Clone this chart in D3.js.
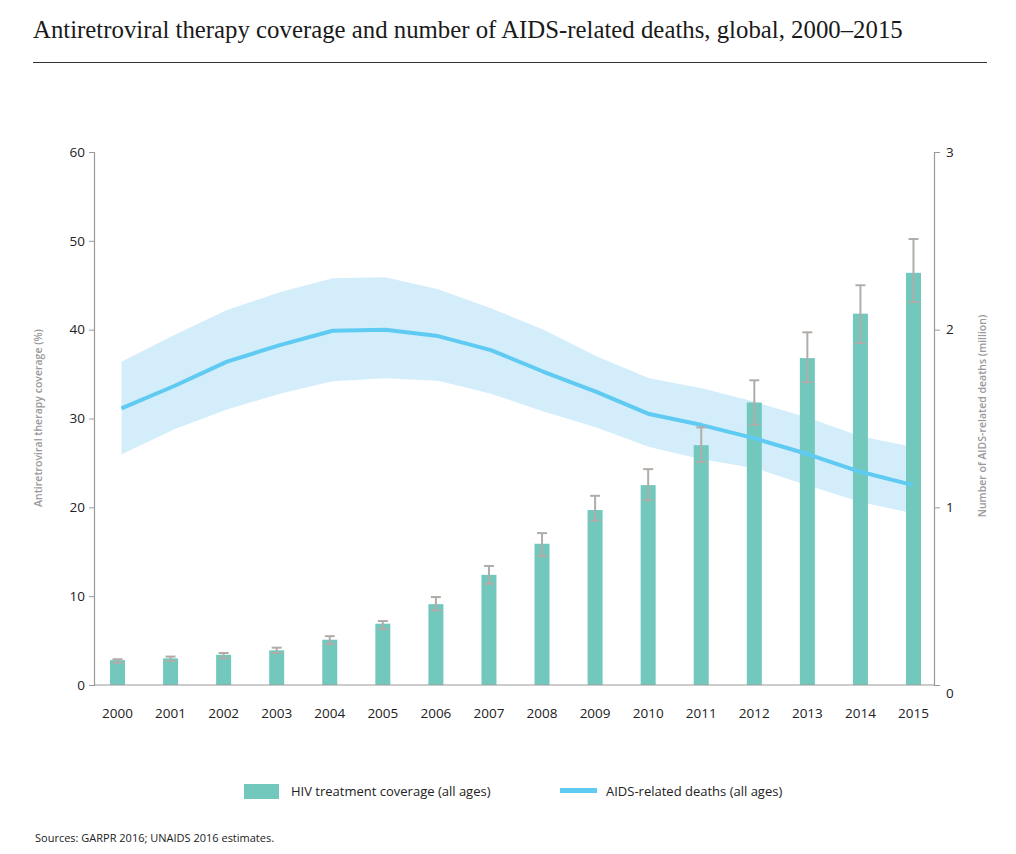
<!DOCTYPE html>
<html><head><meta charset="utf-8">
<script src="https://cdn.jsdelivr.net/npm/d3@7"></script>
<style>body{margin:0;background:#fff;} svg{display:block;}</style>
</head><body>
<svg id="chart" width="1016" height="854"></svg>
<script>
const years = [2000,2001,2002,2003,2004,2005,2006,2007,2008,2009,2010,2011,2012,2013,2014,2015];
const coverage = [2.8,3.0,3.4,3.9,5.1,6.9,9.1,12.4,15.9,19.7,22.5,27.0,31.8,36.8,41.8,46.4];
const coverageHigh = [2.9,3.2,3.6,4.2,5.5,7.2,9.9,13.4,17.1,21.3,24.3,29.0,34.3,39.7,45.0,50.2];
const coverageLow = [2.5,2.7,3.0,3.6,4.6,6.3,8.4,11.4,14.5,18.5,20.8,25.1,29.3,34.1,38.5,43.1];
const deaths = [1.557,1.683,1.82,1.913,1.994,2.0,1.964,1.885,1.763,1.65,1.525,1.463,1.388,1.30,1.20,1.125];
const deathsHigh = [1.82,1.97,2.11,2.21,2.29,2.295,2.227,2.12,2.0,1.85,1.726,1.67,1.594,1.506,1.40,1.34];
const deathsLow = [1.298,1.44,1.55,1.64,1.71,1.726,1.713,1.64,1.54,1.45,1.34,1.27,1.22,1.125,1.03,0.966];
const leftTicks = [0,10,20,30,40,50,60];
const rightTicks = [0,1,2,3];

const svg = d3.select('#chart');
const sans = "'Open Sans', 'Noto Sans', sans-serif";
const axisCol = '#9a9a9a';

svg.append('text').attr('x',33).attr('y',38)
  .attr('font-family',"'Liberation Serif', 'DejaVu Serif', serif")
  .attr('font-size',24.8).attr('fill','#1a1a1a')
  .text('Antiretroviral therapy coverage and number of AIDS-related deaths, global, 2000–2015');
svg.append('line').attr('x1',33).attr('x2',987).attr('y1',62.5).attr('y2',62.5)
  .attr('stroke','#333').attr('stroke-width',1);

const x = d3.scalePoint().domain(years).range([117.5, 913.5]);
const xl = d3.scalePoint().domain(years).range([121.5, 913]);
const yL = d3.scaleLinear().domain([0,60]).range([685,152]);
const yR = d3.scaleLinear().domain([0,3]).range([685,152]);

// band
const area = d3.area().x((d,i)=>xl(years[i])).y0((d,i)=>yR(deathsLow[i])).y1((d,i)=>yR(deathsHigh[i]));
svg.append('path').datum(deaths).attr('d',area).attr('fill','#d3eefa');

// bars
const bw = 15;
svg.append('g').selectAll('rect').data(coverage).join('rect')
  .attr('x',(d,i)=>x(years[i])-bw/2).attr('width',bw)
  .attr('y',d=>yL(d)).attr('height',d=>yL(0)-yL(d))
  .attr('fill','#72c8bd');

// line
const line = d3.line().x((d,i)=>xl(years[i])).y(d=>yR(d));
svg.append('path').datum(deaths).attr('d',line).attr('fill','none')
  .attr('stroke','#5fcaf2').attr('stroke-width',4).attr('stroke-linejoin','round');

// error bars
const eg = svg.append('g').attr('stroke','#b2aca8').attr('stroke-width',2);
years.forEach((yr,i)=>{
  const cx = x(yr);
  eg.append('line').attr('x1',cx).attr('x2',cx).attr('y1',yL(coverageHigh[i])).attr('y2',yL(coverageLow[i]));
  eg.append('line').attr('x1',cx-5).attr('x2',cx+5).attr('y1',yL(coverageHigh[i])).attr('y2',yL(coverageHigh[i]));
  eg.append('line').attr('x1',cx-5).attr('x2',cx+5).attr('y1',yL(coverageLow[i])).attr('y2',yL(coverageLow[i]));
});

// axes
const la = svg.append('g').attr('transform','translate(94,0)')
  .call(d3.axisLeft(yL).tickValues(leftTicks).tickSize(5).tickPadding(4).tickFormat(d3.format('d')));
const ra = svg.append('g').attr('transform','translate(934,0)')
  .call(d3.axisRight(yR).tickValues(rightTicks).tickSize(6).tickPadding(6).tickFormat(d3.format('d')));
[la,ra].forEach(a=>{
  a.select('.domain').attr('stroke',axisCol).attr('stroke-width',1.2);
  a.selectAll('.tick line').attr('stroke',axisCol);
  a.selectAll('.tick text').attr('font-family',sans).attr('font-size',13.5).attr('fill','#222');
});
ra.selectAll('.tick').filter(d=>d===0).select('text').attr('dy','0.9em');
svg.append('line').attr('x1',94).attr('x2',934).attr('y1',685).attr('y2',685)
  .attr('stroke',axisCol).attr('stroke-width',1.2);

svg.append('g').selectAll('text').data(years).join('text')
  .attr('x',d=>x(d)).attr('y',718).attr('text-anchor','middle')
  .attr('font-family',sans).attr('font-size',13.5).attr('fill','#222').text(d=>d);

svg.append('text').attr('transform','translate(42,418) rotate(-90)').attr('text-anchor','middle')
  .attr('font-family',sans).attr('font-size',10.5).attr('font-weight',600).attr('fill','#9a9a9a')
  .text('Antiretroviral therapy coverage (%)');
svg.append('text').attr('transform','translate(986,416) rotate(-90)').attr('text-anchor','middle')
  .attr('font-family',sans).attr('font-size',10.5).attr('font-weight',600).attr('fill','#9a9a9a')
  .text('Number of AIDS-related deaths (million)');

// legend
svg.append('rect').attr('x',244).attr('y',784).attr('width',35).attr('height',15).attr('fill','#72c8bd');
svg.append('text').attr('x',291).attr('y',796).attr('font-family',sans).attr('font-size',13).attr('fill','#222')
  .text('HIV treatment coverage (all ages)');
svg.append('rect').attr('x',560).attr('y',788).attr('width',37).attr('height',5).attr('fill','#5fcaf2');
svg.append('text').attr('x',606).attr('y',796).attr('font-family',sans).attr('font-size',13).attr('fill','#222')
  .text('AIDS-related deaths (all ages)');

svg.append('text').attr('x',35).attr('y',842).attr('font-family',sans).attr('font-size',11).attr('fill','#222')
  .text('Sources: GARPR 2016; UNAIDS 2016 estimates.');
</script>
</body></html>
